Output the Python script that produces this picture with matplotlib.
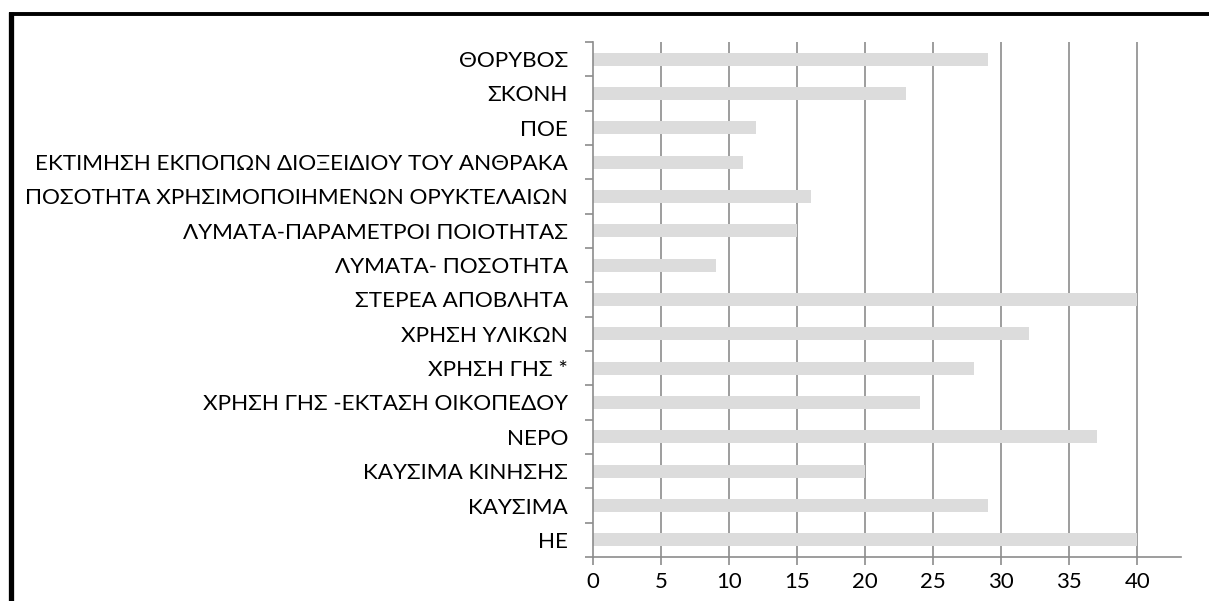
import matplotlib
matplotlib.use("Agg")
import matplotlib.pyplot as plt
from matplotlib.lines import Line2D
import numpy as np

categories = [
    "ΘΟΡΥΒΟΣ",
    "ΣΚΟΝΗ",
    "ΠΟΕ",
    "ΕΚΤΙΜΗΣΗ ΕΚΠΟΠΩΝ ΔΙΟΞΕΙΔΙΟΥ ΤΟΥ ΑΝΘΡΑΚΑ",
    "ΠΟΣΟΤΗΤΑ ΧΡΗΣΙΜΟΠΟΙΗΜΕΝΩΝ ΟΡΥΚΤΕΛΑΙΩΝ",
    "ΛΥΜΑΤΑ-ΠΑΡΑΜΕΤΡΟΙ ΠΟΙΟΤΗΤΑΣ",
    "ΛΥΜΑΤΑ- ΠΟΣΟΤΗΤΑ",
    "ΣΤΕΡΕΑ ΑΠΟΒΛΗΤΑ",
    "ΧΡΗΣΗ ΥΛΙΚΩΝ",
    "ΧΡΗΣΗ ΓΗΣ *",
    "ΧΡΗΣΗ ΓΗΣ -ΕΚΤΑΣΗ ΟΙΚΟΠΕΔΟΥ",
    "ΝΕΡΟ",
    "ΚΑΥΣΙΜΑ ΚΙΝΗΣΗΣ",
    "ΚΑΥΣΙΜΑ",
    "ΗΕ",
]
values = [29, 23, 12, 11, 16, 15, 9, 40, 32, 28, 24, 37, 20, 29, 40]
xticks = [0, 5, 10, 15, 20, 25, 30, 35, 40]

plt.rcParams['font.family'] = ['Lato', 'DejaVu Sans']

W, H = 1209, 601
fig = plt.figure(figsize=(W / 100, H / 100), dpi=100)
ax = fig.add_axes([593 / W, 1 - 557 / H, (1181 - 593) / W, (557 - 42) / H])

n = len(categories)
ypos = np.arange(n)[::-1]
ax.barh(ypos, values, height=0.38, color="#dcdcdc", zorder=2)

ax.set_xlim(0, 43.2)
ax.set_ylim(-0.5, n - 0.5)
ax.set_xticks(xticks)
ax.set_xticklabels([str(t) for t in xticks], fontsize=16)
ax.set_yticks(ypos)
ax.set_yticklabels(categories, fontsize=16.2)
ax.set_yticks(np.arange(n + 1) - 0.5, minor=True)

gc = "#8c8c8c"
for t in xticks[1:]:
    ax.axvline(t, color=gc, lw=1.2, zorder=1)

for s in ["top", "right"]:
    ax.spines[s].set_visible(False)
for s in ["left", "bottom"]:
    ax.spines[s].set_color(gc)
    ax.spines[s].set_linewidth(1.2)

ax.tick_params(axis="y", which="major", length=0, pad=18, colors="black")
ax.tick_params(axis="y", which="minor", length=6, width=1.2, color=gc)
ax.tick_params(axis="x", which="major", length=6, width=1.2, color=gc, pad=5, labelcolor="black")

# outer border (left and top)
fig.add_artist(Line2D([10.8 / W, 10.8 / W], [0, 1 - 12 / H], transform=fig.transFigure,
                      color="black", lw=3.8, solid_capstyle="butt"))
fig.add_artist(Line2D([8.5 / W, 1], [1 - 13.8 / H, 1 - 13.8 / H], transform=fig.transFigure,
                      color="black", lw=2.8, solid_capstyle="butt"))

fig.savefig("out.png", dpi=100)
